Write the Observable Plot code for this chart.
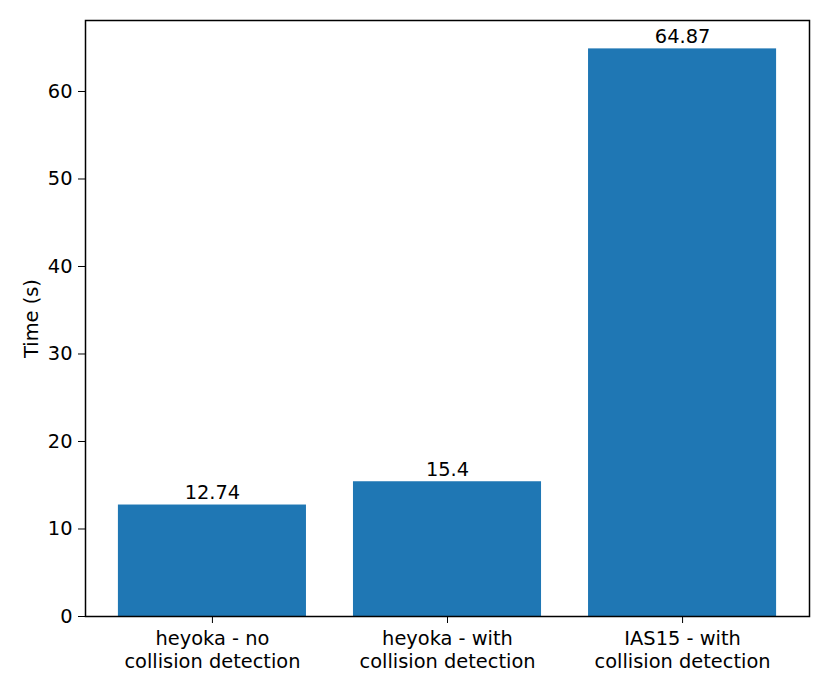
<!DOCTYPE html>
<html>
<head>
<meta charset="utf-8">
<script src="https://cdn.jsdelivr.net/npm/d3@7"></script>
<script src="https://cdn.jsdelivr.net/npm/@observablehq/plot@0.6"></script>
<style>
  html, body { margin: 0; padding: 0; background: #fff; }
</style>
</head>
<body>
<div id="chart"></div>
<script>
const categories = ["heyoka - no\ncollision detection", "heyoka - with\ncollision detection", "IAS15 - with\ncollision detection"];
const times = [12.74, 15.4, 64.87];
const barLabels = ["12.74", "15.4", "64.87"];
const yTicks = [0, 10, 20, 30, 40, 50, 60];

const data = categories.map((c, i) => ({i, c, t: times[i], lab: barLabels[i]}));
const barW = 0.8;
const xMin = -barW / 2 - 0.05 * (categories.length - 1 + barW);
const xMax = categories.length - 1 + barW / 2 + 0.05 * (categories.length - 1 + barW);
const yMax = d3.max(times) * 1.05;
const FS = 19.4;

const chart = Plot.plot({
  width: 830,
  height: 692,
  marginLeft: 85,
  marginRight: 21,
  marginTop: 20,
  marginBottom: 76,
  style: {fontFamily: "DejaVu Sans", fontSize: FS + "px", color: "#000", background: "#fff"},
  x: {domain: [xMin, xMax]},
  y: {domain: [0, yMax]},
  marks: [
    Plot.rect(data, {x1: d => d.i - barW / 2, x2: d => d.i + barW / 2, y1: 0, y2: "t", fill: "#1f77b4"}),
    Plot.text(data, {x: "i", y: "t", text: "lab", dy: -6, lineAnchor: "bottom", fill: "#000", fontSize: FS}),
    Plot.axisX({ticks: data.map(d => d.i), tickFormat: i => categories[i], tickSize: 7, tickPadding: 5, lineHeight: 1.18, label: null, fontSize: FS}),
    Plot.axisY({ticks: yTicks, tickSize: 7, tickPadding: 6, label: "Time (s)", labelAnchor: "center", labelArrow: "none", labelOffset: 61, fontSize: FS}),
    Plot.frame({stroke: "#000", strokeWidth: 1.5})
  ]
});
document.getElementById("chart").appendChild(chart);
</script>
</body>
</html>
